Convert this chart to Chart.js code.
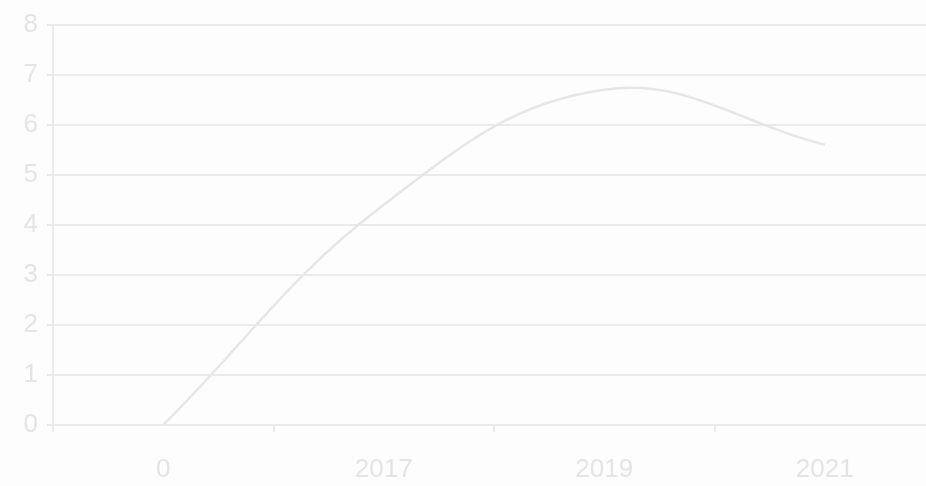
<!DOCTYPE html>
<html>
<head>
<meta charset="utf-8">
<script src="https://cdn.jsdelivr.net/npm/chart.js@4/dist/chart.umd.min.js"></script>
<style>
html,body{margin:0;padding:0;background:#fdfdfd;overflow:hidden;}
#wrap{width:926px;height:486px;overflow:hidden;}
</style>
</head>
<body>
<div id="wrap"><canvas id="c" width="935" height="486"></canvas></div>
<script>
const categories = ['0', '2017', '2019', '2021'];
const values = [0, 4.4, 6.7, 5.6];
const yTicks = [0, 1, 2, 3, 4, 5, 6, 7, 8];

const fontFamily = "'Liberation Sans Narrow', 'Liberation Sans', sans-serif";
const textColor = '#e4e4e4';
const gridColor = '#eaeaea';
const tickFont = { family: fontFamily, size: 26 };

new Chart(document.getElementById('c'), {
  type: 'line',
  data: {
    labels: categories,
    datasets: [{
      data: values,
      borderColor: '#e6e6e6',
      borderWidth: 2.5,
      tension: 0.4,
      pointRadius: 0,
      fill: false
    }]
  },
  options: {
    responsive: false,
    animation: false,
    devicePixelRatio: 1,
    layout: { padding: { top: 8, right: 0, bottom: 1, left: 0 } },
    plugins: { legend: { display: false }, tooltip: { enabled: false } },
    scales: {
      x: {
        offset: true,
        afterFit: (s) => { s.height = 60; },
        grid: { display: true, offset: true, drawOnChartArea: false, drawTicks: true, tickLength: 7, color: gridColor, lineWidth: 2 },
        border: { display: true, color: gridColor, width: 2 },
        ticks: { color: textColor, padding: 22, maxRotation: 0, autoSkip: false, font: tickFont }
      },
      y: {
        min: 0,
        max: 8,
        afterBuildTicks: (s) => { s.ticks = yTicks.map(v => ({ value: v })); },
        afterFit: (s) => { s.width = 53; },
        grid: { color: gridColor, lineWidth: 2, tickLength: 6, drawTicks: true },
        border: { display: true, color: gridColor, width: 2 },
        ticks: { color: textColor, padding: 9, font: tickFont }
      }
    }
  }
});
</script>
</body>
</html>
